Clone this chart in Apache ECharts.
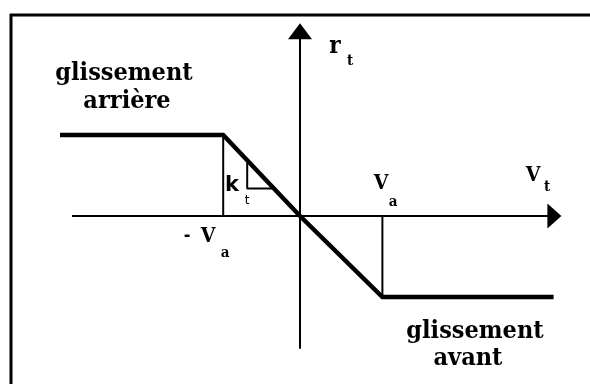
<!DOCTYPE html>
<html>
<head>
<meta charset="utf-8">
<script src="https://cdn.jsdelivr.net/npm/echarts@6/dist/echarts.min.js"></script>
<style>html,body{margin:0;padding:0;background:#fff}#c{width:590px;height:384px}</style>
</head>
<body>
<div id="c"></div>
<script>
// Characteristic curve (schematic): tangential force vs tangential slip velocity
var curveX = [-3.0, -0.96, 0, 1.03, 3.17];
var curveY = [1, 1, 0, -1, -1];
// drop lines at -Va and +Va
var dropLeftX = [-0.96, -0.96];
var dropLeftY = [0, 1];
var dropRightX = [1.03, 1.03];
var dropRightY = [0, -1];
// slope triangle (k_t)
var triX = [-0.66, -0.66, -0.34];
var triY = [0.66, 0.34, 0.34];
// axes extents
var hAxisX = [-2.85, 3.17];
var hAxisY = [0, 0];
var vAxisX = [0, 0];
var vAxisY = [-1.64, 2.2];
// arrow heads
var arrowRight = [3.18, 0];
var arrowUp = [0, 2.28];

function pairs(xs, ys){ return xs.map(function(x,i){ return [x, ys[i]]; }); }

var chart = echarts.init(document.getElementById('c'), null, {renderer:'canvas'});
var lineBase = { type:'line', symbol:'none', silent:true, animation:false };
var serifFont = '"DejaVu Serif Condensed", "DejaVu Serif", serif';
function txt(x, y, s, size, weight, family){
  return { type:'text', x:x, y:y, style:{ text:s, fill:'#000', font: (weight||'normal') + ' ' + size + 'px ' + (family||serifFont), textAlign:'center', textVerticalAlign:'middle' } };
}
chart.setOption({
  animation:false,
  backgroundColor:'#fff',
  grid:{ left:12, right:2, top:0, bottom:0 },
  xAxis:{ type:'value', min:-3.6, max:3.6, show:false },
  yAxis:{ type:'value', min:-2.074, max:2.667, show:false },
  series:[
    Object.assign({}, lineBase, { data:pairs(hAxisX,hAxisY), lineStyle:{ color:'#000', width:2 } }),
    Object.assign({}, lineBase, { data:pairs(vAxisX,vAxisY), lineStyle:{ color:'#000', width:2 } }),
    Object.assign({}, lineBase, { data:pairs(dropLeftX,dropLeftY), lineStyle:{ color:'#000', width:2 } }),
    Object.assign({}, lineBase, { data:pairs(dropRightX,dropRightY), lineStyle:{ color:'#000', width:2 } }),
    Object.assign({}, lineBase, { data:pairs(triX,triY), lineStyle:{ color:'#000', width:2 } }),
    Object.assign({}, lineBase, { data:pairs(curveX,curveY), lineStyle:{ color:'#000', width:4.5, join:'miter' } }),
    { type:'scatter', silent:true, animation:false, symbol:'triangle', symbolSize:[25,14], symbolRotate:-90, itemStyle:{color:'#000', opacity:1}, data:[arrowRight] },
    { type:'scatter', silent:true, animation:false, symbol:'triangle', symbolSize:[24,16], itemStyle:{color:'#000', opacity:1}, data:[arrowUp] }
  ],
  graphic:[
    { type:'line', shape:{ x1:10, y1:15, x2:590, y2:15 }, style:{ stroke:'#000', lineWidth:3 } },
    { type:'line', shape:{ x1:11, y1:14, x2:11, y2:384 }, style:{ stroke:'#000', lineWidth:3 } },
    txt(124, 73, 'glissement', 25, 'bold'),
    txt(127, 101, 'arrière', 25, 'bold'),
    txt(475, 331, 'glissement', 25, 'bold'),
    txt(468, 358, 'avant', 25, 'bold'),
    txt(381, 184, 'V', 21, 'bold'),
    txt(393, 202, 'a', 15, 'bold'),
    txt(187, 236, '-', 18, 'bold'),
    txt(208, 237, 'V', 21, 'bold'),
    txt(225, 253, 'a', 15, 'bold'),
    txt(533, 176, 'V', 21, 'bold'),
    txt(547, 187, 't', 15, 'bold'),
    txt(335, 47, 'r', 24, 'bold'),
    txt(350, 61, 't', 15, 'bold'),
    txt(232, 186, 'k', 21, 'bold', '"DejaVu Sans", sans-serif'),
    txt(247, 201, 't', 12, 'normal', '"DejaVu Sans", sans-serif')
  ]
});
</script>
</body>
</html>
